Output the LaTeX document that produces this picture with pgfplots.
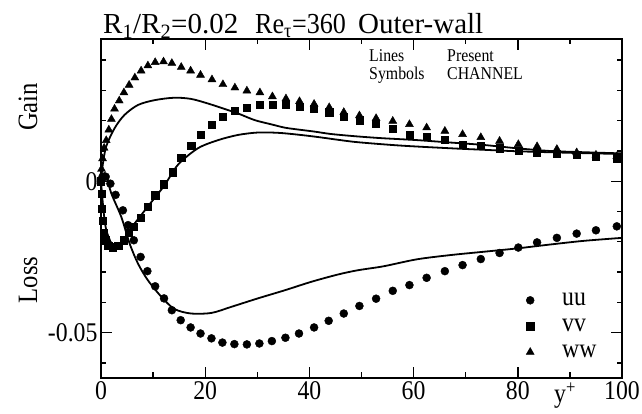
\documentclass[border=0pt]{standalone}
\usepackage{fontspec}
\setmainfont{Liberation Serif}[FakeStretch=0.88]
\newfontfamily\titlefont{Liberation Serif}[FakeStretch=0.9]
\newfontfamily\titlefontw{Liberation Serif}
\usepackage{pgfplots}
\pgfplotsset{compat=1.18}
\begin{document}
\begin{tikzpicture}[x=1pt,y=1pt]
\useasboundingbox (-101,-36) rectangle (541,378);
\begin{axis}[
  at={(0,0)}, anchor=south west, scale only axis,
  width=521pt, height=339pt,
  xmin=0, xmax=100, ymin=-0.065, ymax=0.047,
  xtick={0,20,...,100}, minor xtick={10,30,...,90},
  ytick={-0.05,0}, yticklabels={-0.05,0},
  minor ytick={-0.06,-0.04,-0.03,-0.02,-0.01,0.01,0.02,0.03,0.04},
  tick align=inside, major tick length=11pt, minor tick length=5.5pt,
  axis line style={line width=1.6pt},
  every tick/.style={line width=1.4pt, black},
  tick label style={font=\fontsize{27}{27}\selectfont},
  /pgf/number format/assume math mode=true,
  scaled y ticks=false,
  clip=false,
  legend cell align=left,
  legend style={draw=none, fill=none, font=\fontsize{27}{27}\selectfont,
    at={(0.81,0.262)}, anchor=north west, row sep=8pt,
    /tikz/every odd column/.append style={column sep=26pt}},
]
% Lines: Present
\addplot[black, line width=1.8pt, smooth, forget plot] coordinates {
(0,0) (0.5,0.0025) (1.0,0.002) (2.0,-0.0041) (3.9,-0.0118) (5.5,-0.0206)
(7.1,-0.0272) (9.0,-0.0327) (11.6,-0.0382) (14.1,-0.0422) (17.3,-0.0437)
(21.2,-0.0435) (25.0,-0.0415) (30.1,-0.0387) (35.3,-0.0360) (40.4,-0.0332)
(45.5,-0.0308) (49.3,-0.0294) (54.2,-0.0281) (60.6,-0.0258) (67.0,-0.0244)
(73.4,-0.0233) (79.8,-0.0222) (86.2,-0.0209) (92.6,-0.0197) (100,-0.0187)};
\addplot[black, line width=1.8pt, smooth, forget plot] coordinates {
(0,0) (0.5,-0.010) (1.0,-0.016) (2.0,-0.0205) (3.0,-0.0215) (4.0,-0.0200)
(5.0,-0.0178) (6.0,-0.0150) (7.7,-0.0112) (9.7,-0.0068) (12.2,-0.0013)
(14.8,0.0055) (18.6,0.0109) (22.5,0.0136) (26.3,0.0153) (30.1,0.0161)
(34.0,0.0160) (37.8,0.0154) (41.7,0.0146) (45.5,0.0137) (49.3,0.0129)
(57.4,0.0118) (67.0,0.0109) (73.4,0.0104) (80,0.0099) (90,0.0094) (100,0.0090)};
\addplot[black, line width=1.8pt, smooth, forget plot] coordinates {
(0,0) (0.3,0.005) (1.0,0.0115) (2.6,0.0175) (4.5,0.0219) (7.1,0.0252)
(10.3,0.0268) (14.1,0.0276) (17.3,0.0272) (20.5,0.0257) (23.7,0.0239)
(26.3,0.0224) (29.5,0.0202) (32.7,0.0188) (35.3,0.0177) (37.8,0.0171)
(41.0,0.0164) (44.2,0.0156) (49.3,0.0148) (54.2,0.0142) (60.6,0.0136)
(67.0,0.0128) (73.4,0.0120) (79.8,0.0109) (86.2,0.0100) (92.6,0.0096) (100,0.0092)};
% Symbols: CHANNEL
\addplot[only marks, mark=*, mark size=4pt, black] coordinates {
(0,0) (0.3,0.0015) (0.9,0.0015) (1.8,-0.0008) (2.8,-0.0045) (4.2,-0.0096)
(5.2,-0.0145) (6.3,-0.0195) (7.6,-0.0250) (8.9,-0.0297) (10.4,-0.0347)
(12.1,-0.0387) (13.6,-0.0426) (15.3,-0.0459) (17.2,-0.0483) (19.1,-0.0503)
(21.2,-0.0519) (23.3,-0.0533) (25.6,-0.0538) (28.0,-0.0539) (30.4,-0.0536)
(32.8,-0.0528) (35.4,-0.0517) (38.0,-0.0503) (40.9,-0.0483) (43.7,-0.0461)
(46.6,-0.0437) (49.6,-0.0412) (52.8,-0.0388) (56.0,-0.0362) (59.2,-0.0343)
(62.5,-0.0319) (66.0,-0.0297) (69.4,-0.0277) (72.9,-0.0257) (76.5,-0.0237)
(80.1,-0.0219) (83.7,-0.0202) (87.5,-0.0187) (91.3,-0.0173) (95.0,-0.0162)
(99.0,-0.0149)};
\addlegendentry{uu}
\addplot[only marks, mark=square*, mark size=3.6pt, black] coordinates {
(0,0) (0.1,-0.004) (0.2,-0.009) (0.3,-0.013) (0.5,-0.017) (0.8,-0.0195)
(1.4,-0.0212) (2.3,-0.0218) (3.3,-0.0212) (4.3,-0.0195) (5.3,-0.0170)
(6.3,-0.0150) (7.6,-0.0120) (9.0,-0.0085) (10.4,-0.0046) (12.0,-0.0010)
(13.7,0.0030) (15.4,0.0079) (17.3,0.0118) (19.1,0.0153) (21.2,0.0186)
(23.4,0.0212) (25.6,0.0232) (28.0,0.0244) (30.5,0.0252) (32.9,0.0254)
(35.5,0.0252) (38.1,0.0247) (40.9,0.0241) (43.8,0.0228) (46.6,0.0213)
(49.7,0.0202) (52.8,0.0191) (56.0,0.0173) (59.2,0.0155) (62.5,0.0148)
(66.0,0.0136) (69.4,0.0122) (72.9,0.0117) (76.5,0.0109) (80.1,0.0100)
(83.7,0.0096) (87.5,0.0092) (91.3,0.0087) (95.0,0.0082) (99.0,0.0076)};
\addlegendentry{vv}
\addplot[only marks, mark=triangle*, mark size=4.6pt, black] coordinates {
(0,0) (0.1,0.004) (0.3,0.0075) (0.6,0.011) (1.0,0.0135) (1.5,0.017)
(2.0,0.0205) (2.6,0.0239) (3.5,0.0266) (4.4,0.0293) (5.4,0.0318) (6.5,0.0342)
(7.7,0.0365) (9.0,0.0382) (10.4,0.0393) (12.0,0.0395) (13.6,0.0390)
(15.4,0.0377) (17.2,0.0365) (19.1,0.0351) (21.3,0.0336) (23.4,0.0320)
(25.7,0.0309) (28.0,0.0299) (30.5,0.0293) (32.9,0.0280) (35.5,0.0273)
(38.1,0.0264) (40.9,0.0255) (43.8,0.0244) (46.6,0.0228) (49.6,0.0217)
(52.8,0.0208) (56.0,0.0199) (59.2,0.0188) (62.5,0.0177) (66.0,0.0166)
(69.4,0.0155) (72.9,0.0145) (76.5,0.0133) (80.1,0.0122) (83.7,0.0115)
(87.5,0.0106) (91.3,0.0095) (95.0,0.0087) (99.0,0.0082)};
\addlegendentry{ww}
\end{axis}
\node[anchor=base west, inner sep=0pt, font=\titlefontw\fontsize{29}{29}\selectfont] at (2,344) {R\textsubscript{1}/R\textsubscript{2}=0.02};
\node[anchor=base west, inner sep=0pt, font=\titlefont\fontsize{29}{29}\selectfont] at (154,344) {Re\textsubscript{τ}=360};
\node[anchor=base west, inner sep=0pt, font=\titlefontw\fontsize{29}{29}\selectfont] at (257,344) {Outer-wall};
\node[rotate=90, font=\fontsize{28}{28}\selectfont] at (-73,271) {Gain};
\node[rotate=90, font=\fontsize{28}{28}\selectfont] at (-73,98) {Loss};
\node[anchor=base west, inner sep=0pt, font=\fontsize{18}{18}\selectfont] at (268,316) {Lines};
\node[anchor=base west, inner sep=0pt, font=\fontsize{18}{18}\selectfont] at (346,316) {Present};
\node[anchor=base west, inner sep=0pt, font=\fontsize{18}{18}\selectfont] at (268,298) {Symbols};
\node[anchor=base west, inner sep=0pt, font=\fontsize{18}{18}\selectfont] at (346,298) {CHANNEL};
\node[anchor=base, inner sep=0pt, font=\fontsize{27}{27}\selectfont] at (464,-25) {y\textsuperscript{+}};
\end{tikzpicture}
\end{document}
